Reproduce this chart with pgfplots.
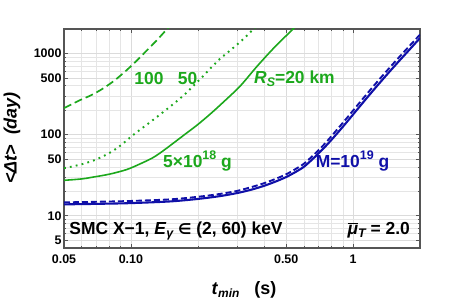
\documentclass[border=0pt]{standalone}
\usepackage{fontspec}
\setmainfont{Liberation Sans}
\newfontfamily\djv{DejaVu Sans}
\usepackage{pgfplots}
\pgfplotsset{compat=1.18}
\definecolor{mgreen}{RGB}{28,168,28}
\definecolor{mblue}{RGB}{16,16,168}
\definecolor{frame}{RGB}{85,85,85}
\begin{document}
\begin{tikzpicture}[x=1bp,y=1bp]
\useasboundingbox (-64,-53) rectangle (385,248);
\begin{axis}[
  at={(0,0)}, anchor=south west,
  scale only axis, width=356bp, height=219bp,
  xmode=log, ymode=log,
  xmin=0.05, xmax=2, ymin=4, ymax=2000,
  xtick={0.05,0.1,0.5,1}, xticklabels={0.05,0.10,0.50,1},
  ytick={5,10,50,100,500,1000}, yticklabels={5,10,50,100,500,1000},
  minor xtick={0.06,0.07,0.08,0.09,0.2,0.3,0.4,0.6,0.7,0.8,0.9,2},
  minor ytick={4,6,7,8,9,20,30,40,60,70,80,90,200,300,400,600,700,800,900,2000},
  grid=both, major grid style={black!14, line width=0.5pt}, minor grid style={black!10, line width=0.5pt},
  tick align=inside, major tick length=4bp, minor tick length=2.5bp,
  tick style={frame, line width=0.5pt},
  axis line style={frame, line width=1.3pt},
  ticklabel style={font=\fontsize{12.5}{13}\selectfont\bfseries},
  xticklabel style={yshift=-3bp},
  yticklabel style={xshift=1bp},
  clip=true,
]
% green dashed (100 km)
\addplot[mgreen, line width=1.7pt, dash pattern=on 8bp off 4bp, smooth] coordinates {
(0.05,212) (0.0513,219) (0.0589,265) (0.0665,307) (0.075,370) (0.0847,468) (0.0957,622) (0.106,810) (0.118,1090) (0.131,1459) (0.144,1940) (0.15,2200)};
% green dotted (50 km)
\addplot[mgreen, line width=1.9pt, dash pattern=on 1.8bp off 4.2bp, smooth] coordinates {
(0.05,38.5) (0.06,43) (0.068,48) (0.076,55) (0.083,63) (0.0908,75) (0.102,98) (0.116,128) (0.131,165) (0.145,205) (0.161,258) (0.178,328) (0.194,415) (0.212,530) (0.231,680) (0.252,860) (0.275,1047) (0.30,1280) (0.33,1620) (0.356,2000) (0.37,2200)};
% green solid (20 km)
\addplot[mgreen, line width=1.6pt, smooth] coordinates {
(0.05,27.3) (0.06,28.4) (0.068,30) (0.08,32.5) (0.0956,37) (0.11,43.5) (0.125,51.5) (0.135,59) (0.147,70) (0.172,97) (0.198,130) (0.227,178) (0.261,252) (0.31,395) (0.369,690) (0.438,1153) (0.54,2040) (0.56,2300)};
% blue dashed
\addplot[mblue, line width=1.9pt, dash pattern=on 6bp off 3bp, smooth] coordinates {
(0.05,14.6) (0.07,14.85) (0.1,15.2) (0.15,15.9) (0.2,17.1) (0.25,18.5) (0.3,20.2) (0.35,22.6) (0.4,25.3) (0.45,28.6) (0.5,32.4) (0.55,37.5) (0.6,43.6) (0.65,53) (0.7,64.5) (0.75,78.4) (0.8,96) (0.85,116.5) (0.9,140) (0.95,167) (1.0,198) (1.1,271) (1.2,360) (1.3,465) (1.4,586) (1.5,725) (1.6,880) (1.7,1055) (1.8,1250) (1.9,1465) (2.0,1705)};
% blue solid
\addplot[mblue, line width=2.1pt, smooth] coordinates {
(0.05,13.8) (0.07,14.0) (0.1,14.3) (0.15,15.0) (0.2,16.1) (0.25,17.4) (0.3,19.0) (0.35,21.0) (0.4,23.5) (0.45,26.5) (0.5,30) (0.55,34.5) (0.6,40) (0.65,48.5) (0.7,58.8) (0.75,71.3) (0.8,86.5) (0.85,104.4) (0.9,125.3) (0.95,149.4) (1.0,177) (1.1,242.6) (1.2,322) (1.3,416) (1.4,525) (1.5,650) (1.6,791) (1.7,949) (1.8,1126) (1.9,1325) (2.0,1545)};
\end{axis}
% axis labels
\node[rotate=90, font=\fontsize{18}{20}\selectfont\bfseries\itshape] at (-52,110) {<Δt>\ \ (day)};
\node[font=\fontsize{18}{20}\selectfont\bfseries] at (180,-42) {\textit{t}\raisebox{-0.35ex}{\fontsize{12}{12}\selectfont\itshape min}\ \ \ (s)};
% annotations
\begin{scope}[every node/.style={inner sep=0pt, font=\fontsize{17.5}{20}\selectfont\bfseries}]
\node[mgreen, anchor=base] at (85,163.7) {100};
\node[mgreen, anchor=base] at (123.5,163.7) {50};
\node[mgreen, anchor=base west] at (190,164.7) {\textit{R}\raisebox{-0.35ex}{\fontsize{12.5}{12}\selectfont\itshape S}=20 km};
\node[mgreen, anchor=base] at (133.5,81) {5×10\raisebox{0.8ex}{\fontsize{12.5}{12}\selectfont 18} g};
\node[mblue, anchor=base] at (288.5,81) {M=10\raisebox{0.8ex}{\fontsize{12.5}{12}\selectfont 19} g};
\node[black, anchor=base west] at (5.3,14) {SMC X−1, \textit{E}\raisebox{-0.35ex}{\fontsize{12.5}{12}\selectfont\itshape γ} {\djv\bfseries\fontsize{15}{16}\selectfont ∈} (2, 60) keV};
\node[black, anchor=base east] at (346,14) {$\overline{\mbox{\bfseries\itshape μ}}$\raisebox{-0.35ex}{\fontsize{12.5}{12}\selectfont\itshape T} = 2.0};
\end{scope}
\end{tikzpicture}
\end{document}
